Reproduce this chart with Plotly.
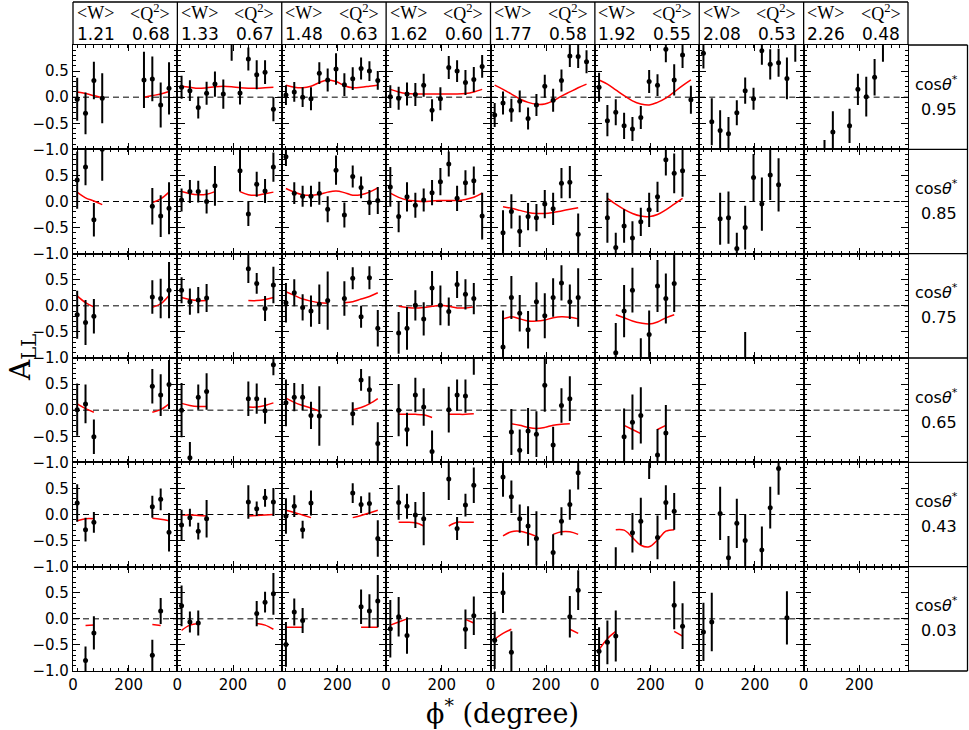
import plotly.graph_objects as go
from plotly.subplots import make_subplots

N = None
PHI = [15, 45, 75, 105, 135, 165, 195, 225, 255, 285, 315, 345]
W_MEAN = ["1.21", "1.33", "1.48", "1.62", "1.77", "1.92", "2.08", "2.26"]
Q2_MEAN = ["0.68", "0.67", "0.63", "0.60", "0.58", "0.55", "0.53", "0.48"]
COS_THETA = ["0.95", "0.85", "0.75", "0.65", "0.43", "0.03"]
EMPTY = [N] * 12

# ---- row 1 : cos(theta*) = 0.95 ----
ALL_R1 = [
    [-0.04, -0.31, 0.32, -0.02, N, N, N, N, 0.33, 0.35, -0.15, 0.17],
    [0.19, 0.125, -0.2, 0.075, 0.25, 0.06, 1.1, 0.08, 0.73, 0.43, 0.48, -0.23],
    [0.04, 0.1, 0.0, -0.03, 0.46, 0.33, 0.54, 0.24, 0.355, 0.55, 0.5, 0.32],
    [0.01, -0.02, 0.06, 0.05, 0.23, -0.25, -0.03, 0.57, 0.5, 0.28, 0.34, 0.59],
    [-0.34, -0.11, -0.25, -0.08, -0.41, -0.15, 0.21, -0.06, 0.32, 0.79, 0.78, 0.68],
    [0.19, -0.45, -0.29, -0.55, -0.61, -0.39, 0.3, 0.23, 0.92, 0.33, 0.81, -0.05],
    [0.84, -0.47, -0.64, -0.7, -0.3, 0.125, -0.03, 0.89, 0.63, 0.66, 0.36, 1.05],
    [N, N, -1.25, -0.67, N, -0.55, 0.15, 0.01, 0.38, 1.05, N, N],
]
ERR_R1 = [
    [0.41, 0.4, 0.36, 0.48, N, N, N, N, 0.54, 0.43, 0.43, 0.5],
    [0.22, 0.2, 0.21, 0.22, 0.24, 0.28, 0.4, 0.22, 0.22, 0.28, 0.23, 0.23],
    [0.19, 0.19, 0.19, 0.22, 0.21, 0.22, 0.3, 0.22, 0.22, 0.21, 0.19, 0.18],
    [0.22, 0.22, 0.22, 0.22, 0.22, 0.21, 0.22, 0.22, 0.21, 0.24, 0.24, 0.22],
    [0.23, 0.22, 0.22, 0.21, 0.21, 0.21, 0.22, 0.22, 0.21, 0.21, 0.22, 0.22],
    [0.28, 0.3, 0.25, 0.25, 0.23, 0.22, 0.22, 0.21, 0.25, 0.3, 0.25, 0.27],
    [0.29, 0.45, 0.39, 0.32, 0.24, 0.25, 0.21, 0.27, 0.29, 0.27, 0.4, 0.37],
    [N, N, 0.43, 0.4, N, 0.33, 0.3, 0.38, 0.35, 0.37, N, N],
]
FIT_R1 = [
    [0.10, 0.07, 0.03, -0.01, N, N, N, N, 0.0, 0.03, 0.06, 0.11],
    [0.21, 0.19, 0.17, 0.18, 0.2, 0.21, 0.2, 0.18, 0.17, 0.17, 0.18, 0.19],
    [0.23, 0.19, 0.18, 0.21, 0.28, 0.33, 0.3, 0.22, 0.18, 0.19, 0.21, 0.23],
    [0.15, 0.1, 0.07, 0.06, 0.06, 0.06, 0.06, 0.06, 0.06, 0.07, 0.1, 0.15],
    [0.23, 0.15, 0.06, -0.035, -0.1, -0.137, -0.13, -0.07, 0.02, 0.1, 0.18, 0.25],
    [0.33, 0.25, 0.14, 0.03, -0.07, -0.13, -0.15, -0.1, -0.02, 0.1, 0.22, 0.33],
    EMPTY, EMPTY,
]

# ---- row 2 : cos(theta*) = 0.85 ----
ALL_R2 = [
    [0.41, 0.66, -0.35, 1.0, N, N, N, N, N, -0.09, -0.28, -0.13],
    [0.03, 0.19, 0.19, 0.0, 0.3, N, N, 0.59, -0.24, 0.33, 0.2, 0.66],
    [0.86, 0.16, 0.1, 0.1, 0.16, -0.15, 0.6, -0.26, 0.48, 0.27, -0.02, 0.02],
    [0.28, -0.29, 0.09, -0.07, 0.03, 0.17, 0.38, 0.72, 0.06, 0.36, 0.4, -0.28],
    [N, -0.6, -0.19, -0.57, -0.29, -0.31, -0.05, -0.14, 0.35, 0.37, -0.63, N],
    [N, -0.31, -0.88, -0.47, -0.7, -0.39, -0.16, 0.09, 0.8, 0.54, 0.59, N],
    [N, N, -0.33, -0.31, -0.9, -0.5, 0.46, -0.05, 0.51, 0.32, N, N],
    EMPTY,
]
ERR_R2 = [
    [0.55, 0.35, 0.32, 0.6, N, N, N, N, N, 0.35, 0.4, 0.5],
    [0.22, 0.22, 0.21, 0.23, 0.38, N, N, 0.4, 0.23, 0.24, 0.23, 0.28],
    [0.18, 0.21, 0.2, 0.2, 0.22, 0.25, 0.28, 0.24, 0.21, 0.21, 0.24, 0.26],
    [0.38, 0.3, 0.28, 0.24, 0.22, 0.24, 0.26, 0.24, 0.24, 0.24, 0.27, 0.45],
    [N, 0.43, 0.33, 0.3, 0.26, 0.26, 0.27, 0.31, 0.29, 0.31, 0.4, N],
    [N, 0.48, 0.28, 0.32, 0.32, 0.27, 0.33, 0.29, 0.3, 0.38, 0.5, N],
    [N, N, 0.5, 0.5, 0.3, 0.42, 0.45, 0.51, 0.48, 0.51, N, N],
    EMPTY,
]
FIT_R2 = [
    [0.18, 0.07, 0.01, -0.06, N, N, N, N, N, -0.02, 0.05, 0.18],
    [0.19, 0.15, 0.13, 0.14, 0.19, N, N, 0.19, 0.13, 0.12, 0.15, 0.18],
    [0.25, 0.18, 0.13, 0.12, 0.14, 0.18, 0.2, 0.17, 0.12, 0.13, 0.18, 0.26],
    [0.16, 0.08, 0.03, 0.01, 0.0, 0.01, 0.02, 0.02, 0.02, 0.04, 0.08, 0.16],
    [N, -0.1, -0.13, -0.17, -0.21, -0.23, -0.23, -0.21, -0.18, -0.15, -0.12, N],
    [N, 0.06, -0.05, -0.15, -0.23, -0.28, -0.29, -0.25, -0.16, -0.05, 0.06, N],
    EMPTY, EMPTY,
]

# ---- row 3 : cos(theta*) = 0.75 ----
ALL_R3 = [
    [-0.17, -0.32, -0.2, N, N, N, N, N, N, 0.17, 0.14, 0.3],
    [0.3, 0.08, 0.11, 0.15, N, N, N, N, 0.71, 0.43, -0.05, 0.4],
    [0.06, 0.25, -0.03, -0.1, 0.03, 0.1, N, 0.14, 0.53, -0.21, 0.54, -0.43],
    [N, -0.52, -0.43, 0.01, -0.25, 0.34, 0.01, -0.11, 0.41, 0.22, 0.14, N],
    [N, -0.79, 0.16, -0.14, -0.46, 0.08, -0.19, 0.16, 0.44, 0.08, 0.16, N],
    [N, N, -0.9, -0.1, 0.3, -1.1, -0.55, 0.38, 0.14, 0.43, N, N],
    [N, N, N, N, N, -1.15, N, N, N, N, N, N],
    EMPTY,
]
ERR_R3 = [
    [0.46, 0.43, 0.33, N, N, N, N, N, N, 0.32, 0.38, 0.54],
    [0.25, 0.25, 0.25, 0.27, N, N, N, N, 0.27, 0.2, 0.24, 0.35],
    [0.38, 0.26, 0.25, 0.3, 0.38, 0.56, N, 0.33, 0.21, 0.21, 0.22, 0.35],
    [N, 0.4, 0.41, 0.29, 0.32, 0.33, 0.38, 0.27, 0.26, 0.29, 0.3, N],
    [N, 0.7, 0.41, 0.35, 0.36, 0.37, 0.43, 0.37, 0.34, 0.33, 0.56, N],
    [N, N, 0.57, 0.5, 0.43, 0.48, 0.46, 0.5, 0.48, 0.55, N, N],
    [N, N, N, N, N, 0.65, N, N, N, N, N, N],
    EMPTY,
]
FIT_R3 = [
    [0.19, 0.06, -0.02, N, N, N, N, N, N, -0.03, 0.04, 0.2],
    [0.16, 0.12, 0.1, 0.1, N, N, N, N, 0.1, 0.1, 0.12, 0.16],
    [0.27, 0.2, 0.13, 0.09, 0.06, 0.05, N, 0.06, 0.08, 0.13, 0.18, 0.25],
    [N, -0.01, -0.03, -0.04, -0.03, -0.01, 0.01, -0.01, -0.04, -0.04, -0.02, N],
    [N, -0.25, -0.21, -0.25, -0.29, -0.29, -0.27, -0.23, -0.21, -0.22, -0.25, N],
    [N, N, -0.17, -0.23, -0.29, -0.33, -0.35, -0.31, -0.23, -0.17, N, N],
    EMPTY, EMPTY,
]

# ---- row 4 : cos(theta*) = 0.65 ----
ALL_R4 = [
    [0.01, 0.12, -0.51, N, N, N, N, N, N, 0.46, 0.29, 0.49],
    [0.0, -0.91, 0.25, 0.36, N, N, N, N, 0.22, 0.22, -0.01, 0.87],
    [0.14, 0.25, 0.25, -0.1, -0.11, N, N, N, -0.07, 0.58, 0.39, -0.64],
    [N, 0.0, -0.37, 0.29, 0.06, -0.79, N, 0.01, 0.29, 0.27, 1.05, N],
    [N, N, -0.42, -0.77, -0.4, -0.46, 0.48, -0.67, 0.09, 0.22, N, N],
    [N, N, N, -0.51, -0.23, -0.1, N, -0.86, -0.44, N, N, N],
    EMPTY, EMPTY,
]
ERR_R4 = [
    [0.5, 0.37, 0.33, N, N, N, N, N, N, 0.33, 0.4, 0.47],
    [0.52, 0.3, 0.24, 0.35, N, N, N, N, 0.33, 0.29, 0.25, 0.2],
    [0.45, 0.27, 0.25, 0.26, 0.57, N, N, N, 0.22, 0.21, 0.26, 0.41],
    [N, 0.5, 0.32, 0.33, 0.36, 0.4, N, 0.44, 0.3, 0.32, 0.37, N],
    [N, N, 0.44, 0.4, 0.44, 0.44, 0.51, 0.35, 0.33, 0.43, N, N],
    [N, N, N, 0.54, 0.53, 0.54, N, 0.5, 0.54, N, N, N],
    EMPTY, EMPTY,
]
FIT_R4 = [
    [0.12, 0.03, -0.04, N, N, N, N, N, N, -0.04, 0.01, 0.12],
    [0.13, 0.09, 0.07, 0.07, N, N, N, N, 0.06, 0.06, 0.09, 0.14],
    [0.23, 0.15, 0.09, 0.04, -0.02, N, N, N, 0.01, 0.05, 0.12, 0.22],
    [N, -0.08, -0.08, -0.08, -0.09, -0.14, N, -0.08, -0.08, -0.08, -0.07, N],
    [N, N, -0.26, -0.29, -0.33, -0.35, -0.33, -0.29, -0.27, -0.26, N, N],
    [N, N, N, -0.29, -0.37, -0.45, N, -0.37, -0.29, N, N, N],
    EMPTY, EMPTY,
]

# ---- row 5 : cos(theta*) = 0.43 ----
ALL_R5 = [
    [0.22, -0.29, -0.15, N, N, N, N, N, N, 0.15, 0.29, -0.34],
    [-0.2, -0.06, -0.32, -0.08, N, N, N, N, 0.24, 0.11, 0.32, 0.24],
    [-0.03, 0.16, -0.29, 0.22, N, N, N, N, 0.41, 0.19, 0.21, -0.46],
    [N, 0.23, 0.16, -0.01, -0.08, N, N, 0.68, -0.27, 0.18, 0.56, N],
    [N, 0.72, 0.34, -0.08, -0.22, -0.46, N, -0.73, -0.13, 0.19, 0.8, N],
    [N, N, -1.2, N, -0.35, -0.13, 1.1, -0.44, 0.23, 0.06, N, N],
    [N, N, 0.02, -0.83, -0.17, -0.5, N, -0.68, 0.13, 0.88, N, N],
    EMPTY,
]
ERR_R5 = [
    [0.36, 0.23, 0.2, N, N, N, N, N, N, 0.21, 0.21, 0.37],
    [0.29, 0.17, 0.16, 0.36, N, N, N, N, 0.32, 0.14, 0.17, 0.27],
    [0.34, 0.21, 0.17, 0.24, N, N, N, N, 0.19, 0.16, 0.21, 0.35],
    [N, 0.33, 0.24, 0.25, 0.51, N, N, 0.4, 0.22, 0.22, 0.34, N],
    [N, 0.38, 0.31, 0.27, 0.38, 0.52, N, 0.35, 0.27, 0.29, 0.32, N],
    [N, N, 0.57, N, 0.38, 0.45, 0.42, 0.42, 0.33, 0.35, N, N],
    [N, N, 0.51, 0.42, 0.47, 0.51, N, 0.45, 0.4, 0.5, N, N],
    EMPTY,
]
FIT_R5 = [
    [-0.12, -0.08, -0.08, N, N, N, N, N, N, -0.07, -0.09, -0.12],
    [-0.01, -0.01, -0.02, -0.03, N, N, N, N, -0.03, -0.02, -0.01, 0.0],
    [0.08, 0.04, -0.01, -0.06, N, N, N, N, -0.06, -0.02, 0.03, 0.08],
    [N, -0.15, -0.15, -0.16, -0.22, N, N, -0.22, -0.15, -0.15, -0.15, N],
    [N, -0.41, -0.33, -0.32, -0.36, -0.42, N, -0.38, -0.33, -0.33, -0.38, N],
    [N, N, -0.29, -0.3, -0.44, -0.59, -0.62, -0.49, -0.32, -0.29, N, N],
    EMPTY, EMPTY,
]

# ---- row 6 : cos(theta*) = 0.03 ----
ALL_R6 = [
    [N, -0.8, -0.27, N, N, N, N, N, N, -0.7, 0.15, N],
    [0.25, -0.06, -0.08, N, N, N, N, N, N, 0.1, 0.32, 0.48],
    [-0.49, 0.13, -0.03, N, N, N, N, N, N, 0.23, 0.15, 0.34],
    [-0.19, 0.04, -0.32, N, N, N, N, N, N, -0.2, 0.06, N],
    [-0.41, 0.5, -0.64, N, N, N, N, N, N, 0.04, 0.55, N],
    [-0.62, -0.45, -0.33, N, N, N, N, N, N, 0.26, -0.14, N],
    [-0.25, -0.06, N, N, N, N, N, N, N, N, 0.02, N],
    EMPTY,
]
ERR_R6 = [
    [N, 0.27, 0.32, N, N, N, N, N, N, 0.3, 0.25, N],
    [0.39, 0.2, 0.24, N, N, N, N, N, N, 0.24, 0.2, 0.4],
    [0.43, 0.26, 0.24, N, N, N, N, N, N, 0.33, 0.32, 0.5],
    [0.55, 0.38, 0.35, N, N, N, N, N, N, 0.38, 0.37, N],
    [0.55, 0.39, 0.4, N, N, N, N, N, N, 0.4, 0.38, N],
    [0.46, 0.42, 0.49, N, N, N, N, N, N, 0.46, 0.44, N],
    [0.56, 0.56, N, N, N, N, N, N, N, N, 0.51, N],
    EMPTY,
]
FIT_R6 = [
    [N, -0.13, -0.12, N, N, N, N, N, N, -0.11, -0.13, N],
    [-0.22, -0.12, -0.09, N, N, N, N, N, N, -0.09, -0.12, -0.2],
    [-0.16, -0.16, -0.16, N, N, N, N, N, N, -0.16, -0.16, -0.16],
    [-0.12, -0.06, 0.0, N, N, N, N, N, N, -0.01, -0.08, N],
    [-0.39, -0.28, -0.2, N, N, N, N, N, N, -0.2, -0.28, N],
    [-0.59, -0.38, -0.24, N, N, N, N, N, N, -0.24, -0.33, N],
    EMPTY, EMPTY,
]

ROWS = [
    (ALL_R1, ERR_R1, FIT_R1),
    (ALL_R2, ERR_R2, FIT_R2),
    (ALL_R3, ERR_R3, FIT_R3),
    (ALL_R4, ERR_R4, FIT_R4),
    (ALL_R5, ERR_R5, FIT_R5),
    (ALL_R6, ERR_R6, FIT_R6),
]

NR, NC = 6, 8
W, H = 969, 730
ML, MR, MT, MB = 73, 61, 45, 59
PW, PH = W - ML - MR, H - MT - MB


def px(X):
    return (X - ML) / PW


def py(Y):
    return (H - MB - Y) / PH


fig = make_subplots(rows=NR, cols=NC, horizontal_spacing=0, vertical_spacing=0)

for r, (vals, errs, fits) in enumerate(ROWS):
    for c in range(NC):
        fig.add_trace(go.Scatter(
            x=PHI, y=fits[c], mode="lines", line=dict(color="#ff0000", width=1.5, shape="spline"),
            connectgaps=False, hoverinfo="skip", showlegend=False), row=r + 1, col=c + 1)
        fig.add_trace(go.Scatter(
            x=PHI, y=vals[c], mode="markers",
            marker=dict(color="black", size=5),
            error_y=dict(type="data", array=errs[c], visible=True, color="black", thickness=2, width=0),
            showlegend=False), row=r + 1, col=c + 1)
        idx = r * NC + c + 1
        xa = "x" if idx == 1 else f"x{idx}"
        ya = "y" if idx == 1 else f"y{idx}"
        fig.add_shape(type="line", xref=f"{xa} domain", yref=ya, x0=0, x1=1, y0=0, y1=0,
                      line=dict(color="black", width=1, dash="6px,4px"), layer="below")

TICKFONT = dict(family="DejaVu Sans", size=15, color="black")
fig.update_xaxes(range=[0, 375], showline=True, linecolor="black", linewidth=1.3, mirror="allticks",
                 ticks="inside", ticklen=6, tickwidth=1, tickcolor="black",
                 tickmode="linear", tick0=0, dtick=200, showgrid=False, zeroline=False,
                 showticklabels=False, tickfont=TICKFONT,
                 minor=dict(ticks="inside", ticklen=3, tickwidth=1, tickcolor="black",
                            tickmode="linear", tick0=15, dtick=30, showgrid=False))
fig.update_yaxes(range=[-1, 1], showline=True, linecolor="black", linewidth=1.3, mirror="allticks",
                 ticks="inside", ticklen=7, tickwidth=1, tickcolor="black",
                 tickmode="array", tickvals=[-1, -0.5, 0, 0.5],
                 ticktext=["\u22121.0", "\u22120.5", "0.0", "0.5"],
                 showgrid=False, zeroline=False, showticklabels=False, tickfont=TICKFONT,
                 minor=dict(ticks="inside", ticklen=3, tickwidth=1, tickcolor="black",
                            tickmode="linear", tick0=0, dtick=0.1, showgrid=False))
fig.update_xaxes(showticklabels=True, row=NR)
fig.update_yaxes(showticklabels=True, col=1)

shapes_line = dict(color="black", width=1.3)
# header box
fig.add_shape(type="line", xref="paper", yref="paper", x0=0, x1=1, y0=py(2), y1=py(2), line=shapes_line)
for c in range(NC + 1):
    fig.add_shape(type="line", xref="paper", yref="paper", x0=c / NC, x1=c / NC, y0=1, y1=py(2),
                  line=shapes_line)
# right label column
XR = 967.5
for r in range(NR + 1):
    fig.add_shape(type="line", xref="paper", yref="paper", x0=1, x1=px(XR),
                  y0=1 - r / NR, y1=1 - r / NR, line=shapes_line)
fig.add_shape(type="line", xref="paper", yref="paper", x0=px(XR), x1=px(XR), y0=0, y1=1, line=shapes_line)

ann = []
col_w = PW / NC
for c in range(NC):
    xl = ML + c * col_w
    ann.append(dict(text="&lt;W&gt;", x=px(xl + 22), y=py(13), font=dict(family="Liberation Serif", size=18)))
    ann.append(dict(text="&lt;Q<sup>2</sup>&gt;", x=px(xl + 77), y=py(12.5), font=dict(family="Liberation Serif", size=18)))
    ann.append(dict(text=W_MEAN[c], x=px(xl + 22.5), y=py(34), font=dict(family="DejaVu Sans", size=17)))
    ann.append(dict(text=Q2_MEAN[c], x=px(xl + 77.5), y=py(34), font=dict(family="DejaVu Sans", size=17)))
row_h = PH / NR
for r in range(NR):
    yc = MT + (r + 0.5) * row_h
    ann.append(dict(text="cos<i>θ</i><sup>*</sup>", x=px(936), y=py(yc - 14), font=dict(family="DejaVu Sans", size=16)))
    ann.append(dict(text=COS_THETA[r], x=px(939), y=py(yc + 12), font=dict(family="DejaVu Sans", size=16)))
ann.append(dict(text="ϕ<sup>*</sup> (degree)", x=px(503), y=py(711), font=dict(family="DejaVu Serif", size=27)))
ann.append(dict(text="A<sub>LL</sub>", x=px(22), y=py(358), textangle=-90, font=dict(family="DejaVu Serif", size=28)))
for a in ann:
    a.update(xref="paper", yref="paper", showarrow=False, xanchor="center", yanchor="middle")
    a["font"]["color"] = "black"

fig.update_layout(width=W, height=H, margin=dict(l=ML, r=MR, t=MT, b=MB),
                  paper_bgcolor="white", plot_bgcolor="white", annotations=ann, showlegend=False)

fig.write_html("out.html", config={"displayModeBar": False},
               post_script="document.body.style.margin='0px';document.body.style.overflow='hidden';")
